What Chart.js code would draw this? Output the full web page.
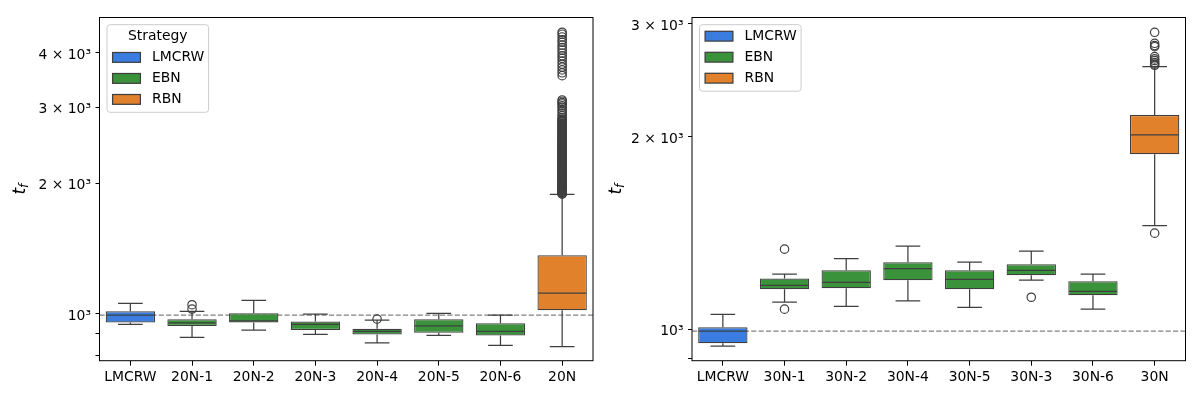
<!DOCTYPE html>
<html><head><meta charset="utf-8">
<script src="https://cdn.jsdelivr.net/npm/chart.js@4.4.1/dist/chart.umd.min.js"></script>
<style>
html,body{margin:0;padding:0;background:#fff;}
#wrap{position:relative;width:1200px;height:400px;overflow:hidden;}
canvas{position:absolute;top:0;}
</style></head><body>
<div id="wrap"><canvas id="c1" width="600" height="400" style="left:0"></canvas><canvas id="c2" width="600" height="400" style="left:600px"></canvas></div>
<script>
// ---- shared ----
const strategies = ['LMCRW', 'EBN', 'RBN'];
const strategyColors = ['#3a7ce0', '#3a923a', '#e1812c'];

// ---- left panel (20N) ----
const cats20  = ['LMCRW', '20N-1', '20N-2', '20N-3', '20N-4', '20N-5', '20N-6', '20N'];
const strat20 = ['LMCRW', 'EBN', 'EBN', 'EBN', 'EBN', 'EBN', 'EBN', 'RBN'];
const lo20  = [945, 882, 916, 896, 856, 891, 845, 839];
const q1_20 = [955, 937, 955, 917, 896, 904, 891, 1018];
const med20 = [993, 952, 963, 945, 911, 937, 911, 1115];
const q3_20 = [1013, 971, 1002, 960, 923, 971, 950, 1364];
const hi20  = [1057, 1013, 1074, 998, 966, 1002, 992, 1885];
const out20 = [
  [],
  [1025, 1049],
  [],
  [],
  [972],
  [],
  [],
  [4466, 4420, 4355, 4290, 4235, 4170, 4115, 4060, 3995, 3940, 3889, 3830, 3767, 3710, 3655, 3600, 3546,
   3116, 3095, 3072, 3050, 3021, 2995, 2961, 2930, 2897, 2866, 2838, 2815,
   2804, 2791, 2779, 2768, 2753, 2741, 2729, 2716, 2705, 2692, 2681, 2669, 2657, 2646, 2633, 2623,
   2612, 2601, 2590, 2579, 2567, 2558, 2547, 2537, 2526, 2516, 2505, 2496, 2486, 2477, 2466, 2456,
   2446, 2437, 2428, 2418, 2408, 2399, 2390, 2381, 2372, 2363, 2354, 2345, 2336, 2328, 2319, 2311,
   2302, 2294, 2285, 2277, 2269, 2261, 2253, 2245, 2237, 2229, 2221, 2214, 2206, 2198, 2191, 2183,
   2176, 2169, 2161, 2154, 2147, 2140, 2133, 2126, 2119, 2112, 2105, 2098, 2092, 2085, 2078, 2072,
   2065, 2059, 2052, 2046, 2040, 2033, 2027, 2021, 2015, 2009, 2003, 1997, 1991, 1985, 1979, 1974,
   1968, 1962, 1957, 1951, 1946, 1940, 1935, 1929, 1924, 1918, 1913, 1908, 1903, 1898, 1893, 1888]
];
const yTicks20 = [800, 900, 1000, 2000, 3000, 4000];
const yTickLabels20 = ['', '', '10³', '2 × 10³', '3 × 10³', '4 × 10³'];

// ---- right panel (30N) ----
const cats30  = ['LMCRW', '30N-1', '30N-2', '30N-4', '30N-5', '30N-3', '30N-6', '30N'];
const strat30 = ['LMCRW', 'EBN', 'EBN', 'EBN', 'EBN', 'EBN', 'EBN', 'RBN'];
const lo30  = [941, 1103, 1086, 1107, 1082, 1193, 1075, 1452];
const q1_30 = [951, 1155, 1159, 1193, 1155, 1214, 1130, 1877];
const med30 = [993, 1171, 1184, 1244, 1197, 1236, 1146, 2012];
const q3_30 = [1007, 1200, 1236, 1273, 1236, 1264, 1189, 2162];
const hi30  = [1055, 1219, 1289, 1349, 1273, 1324, 1219, 2572];
const out30 = [
  [],
  [1334, 1075],
  [],
  [],
  [],
  [1122],
  [],
  [2911, 2798, 2775, 2764, 2667, 2645, 2630, 2610, 2597, 2585, 1413]
];
const yTicks30 = [900, 1000, 2000, 3000];
const yTickLabels30 = ['', '10³', '2 × 10³', '3 × 10³'];

const EDGE = '#3f3f3f';
const LW = 1.25;
const FONT = 'DejaVu Sans';
const FS = 13.9;

const boxPlugin = {
  id: 'boxparts',
  beforeDatasetsDraw(chart, args, o) {
    const {ctx, chartArea: a, scales: {y}} = chart;
    const yy = y.getPixelForValue(o.ref);
    ctx.save();
    ctx.beginPath(); ctx.rect(a.left, a.top, a.width, a.height); ctx.clip();
    ctx.setLineDash([5.2, 2.2]);
    ctx.strokeStyle = '#808080'; ctx.lineWidth = 1.2;
    ctx.beginPath(); ctx.moveTo(a.left, yy); ctx.lineTo(a.right, yy); ctx.stroke();
    ctx.setLineDash([]);
    const meta = chart.getDatasetMeta(0);
    ctx.strokeStyle = EDGE; ctx.lineWidth = LW;
    meta.data.forEach((bar, i) => {
      const x = bar.x, hw = bar.width / 4;
      const pLo = y.getPixelForValue(o.lo[i]), pHi = y.getPixelForValue(o.hi[i]);
      const pQ1 = y.getPixelForValue(o.q1[i]), pQ3 = y.getPixelForValue(o.q3[i]);
      ctx.beginPath();
      ctx.moveTo(x, pQ3); ctx.lineTo(x, pHi);
      ctx.moveTo(x - hw, pHi); ctx.lineTo(x + hw, pHi);
      ctx.moveTo(x, pQ1); ctx.lineTo(x, pLo);
      ctx.moveTo(x - hw, pLo); ctx.lineTo(x + hw, pLo);
      ctx.stroke();
    });
    ctx.restore();
  },
  afterDatasetDraw(chart, args, o) {
    if (args.index !== 0) return;
    const {ctx, scales: {y}} = chart;
    const meta = chart.getDatasetMeta(0);
    ctx.save();
    ctx.strokeStyle = EDGE; ctx.lineWidth = LW;
    meta.data.forEach((bar, i) => {
      const hw = bar.width / 2 - 0.6;
      const pm = y.getPixelForValue(o.med[i]);
      ctx.beginPath(); ctx.moveTo(bar.x - hw, pm); ctx.lineTo(bar.x + hw, pm); ctx.stroke();
    });
    ctx.restore();
  },
  afterDraw(chart, args, o) {
    const {ctx, chartArea: a} = chart;
    ctx.save();
    ctx.strokeStyle = '#000'; ctx.lineWidth = 1;
    ctx.strokeRect(a.left, a.top, a.width, a.height);
    ctx.fillStyle = '#000';
    ctx.translate(o.ylabelX, (a.top + a.bottom) / 2);
    ctx.rotate(-Math.PI / 2);
    ctx.font = 'italic 17px ' + FONT;
    const tw = ctx.measureText('t').width;
    ctx.font = 'italic 12px ' + FONT;
    const fw = ctx.measureText('f').width;
    const tot = tw + fw;
    ctx.textBaseline = 'middle'; ctx.textAlign = 'left';
    ctx.font = 'italic 17px ' + FONT;
    ctx.fillText('t', -tot / 2, -1);
    ctx.font = 'italic 12px ' + FONT;
    ctx.fillText('f', -tot / 2 + tw, 3);
    ctx.setTransform(1, 0, 0, 1, 0, 0);
    const lx = a.left + 7.5, ly = a.top + 7.2;
    const lw = 101.6;
    const hasTitle = !!o.legendTitle;
    const lh = hasTitle ? 87.6 : 66.5;
    const r = 3;
    ctx.beginPath();
    ctx.moveTo(lx + r, ly); ctx.lineTo(lx + lw - r, ly); ctx.arcTo(lx + lw, ly, lx + lw, ly + r, r);
    ctx.lineTo(lx + lw, ly + lh - r); ctx.arcTo(lx + lw, ly + lh, lx + lw - r, ly + lh, r);
    ctx.lineTo(lx + r, ly + lh); ctx.arcTo(lx, ly + lh, lx, ly + lh - r, r);
    ctx.lineTo(lx, ly + r); ctx.arcTo(lx, ly, lx + r, ly, r);
    ctx.closePath();
    ctx.fillStyle = 'rgba(255,255,255,0.8)'; ctx.fill();
    ctx.strokeStyle = '#cccccc'; ctx.lineWidth = 1; ctx.stroke();
    ctx.font = FS + 'px ' + FONT;
    ctx.textBaseline = 'middle';
    let yy = ly + 11.5;
    if (hasTitle) {
      ctx.fillStyle = '#000'; ctx.textAlign = 'center';
      ctx.fillText(o.legendTitle, lx + lw / 2, yy);
      yy += 21.2;
    }
    strategies.forEach((s, k) => {
      ctx.fillStyle = strategyColors[k];
      ctx.fillRect(lx + 5.6, yy - 4.9, 27.8, 9.8);
      ctx.strokeStyle = EDGE; ctx.lineWidth = LW;
      ctx.strokeRect(lx + 5.6, yy - 4.9, 27.8, 9.8);
      ctx.fillStyle = '#000'; ctx.textAlign = 'left';
      ctx.fillText(s, lx + 45, yy);
      yy += 21;
    });
    ctx.restore();
  }
};

function makeChart(id, d) {
  const colors = d.strat.map(s => strategyColors[strategies.indexOf(s)]);
  const pts = [];
  d.out.forEach((arr, i) => arr.forEach(v => pts.push({x: d.cats[i], y: v})));
  return new Chart(document.getElementById(id), {
    type: 'bar',
    data: {
      labels: d.cats,
      datasets: [
        {
          type: 'bar',
          data: d.q1.map((v, i) => [v, d.q3[i]]),
          backgroundColor: colors,
          borderColor: EDGE,
          borderWidth: LW,
          borderSkipped: false,
          categoryPercentage: 1.0,
          barPercentage: 0.8
        },
        {
          type: 'line',
          data: pts,
          showLine: false,
          pointRadius: 4.2,
          pointBorderWidth: 1.2,
          pointBorderColor: EDGE,
          pointBackgroundColor: 'rgba(0,0,0,0)'
        }
      ]
    },
    options: {
      responsive: false,
      animation: false,
      events: [],
      devicePixelRatio: 1,
      layout: {padding: {left: 0, right: d.padRight, top: 17.5, bottom: 0}},
      plugins: {
        legend: {display: false},
        tooltip: {enabled: false},
        boxparts: {
          ref: d.med[0], lo: d.lo, hi: d.hi, q1: d.q1, q3: d.q3, med: d.med,
          legendTitle: d.legendTitle, ylabelX: d.ylabelX
        }
      },
      scales: {
        x: {
          type: 'category',
          offset: true,
          border: {display: false},
          grid: {display: true, drawOnChartArea: false, offset: false, tickLength: 5, tickColor: '#000', tickWidth: 1},
          ticks: {color: '#000', font: {family: FONT, size: FS}, padding: 3, maxRotation: 0, autoSkip: false},
          afterFit: s => { s.height = 39.3; }
        },
        y: {
          type: 'logarithmic',
          min: d.yMin, max: d.yMax,
          border: {display: false},
          grid: {display: true, drawOnChartArea: false, tickLength: 4, tickColor: '#000', tickWidth: 1},
          ticks: {
            color: '#000', font: {family: FONT, size: FS}, padding: 4.5, labelOffset: 2.5,
            callback: v => { const k = d.yTicks.indexOf(v); return k >= 0 ? d.yTickLabels[k] : ''; }
          },
          afterBuildTicks: s => { s.ticks = d.yTicks.map(v => ({value: v})); },
          afterFit: s => { s.width = d.yWidth; }
        }
      }
    },
    plugins: [boxPlugin]
  });
}

makeChart('c1', {
  cats: cats20, strat: strat20, lo: lo20, q1: q1_20, med: med20, q3: q3_20, hi: hi20, out: out20,
  yMin: 779, yMax: 4830, yTicks: yTicks20, yTickLabels: yTickLabels20,
  legendTitle: 'Strategy', yWidth: 99.5, padRight: 7, ylabelX: 21.5
});
makeChart('c2', {
  cats: cats30, strat: strat30, lo: lo30, q1: q1_30, med: med30, q3: q3_30, hi: hi30, out: out30,
  yMin: 893, yMax: 3070, yTicks: yTicks30, yTickLabels: yTickLabels30,
  legendTitle: '', yWidth: 92, padRight: 14.5, ylabelX: 18
});
</script>
</body></html>
